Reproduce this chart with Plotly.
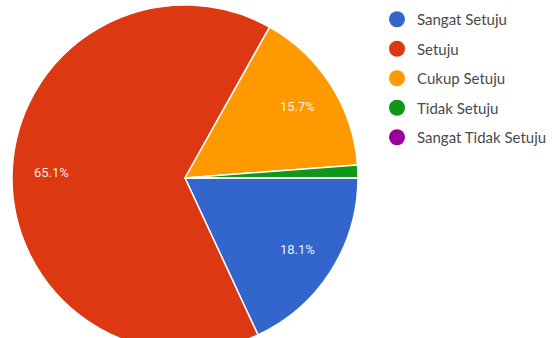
import math
import plotly.graph_objects as go

# Survey responses (counts per answer)
categories = ["Sangat Setuju", "Setuju", "Cukup Setuju", "Tidak Setuju", "Sangat Tidak Setuju"]
counts = [15, 54, 13, 1, 0]
colors = ["#3366cc", "#dc3912", "#ff9900", "#109618", "#990099"]

W, H = 553, 356
CX, CY, R = 185, 178, 173          # pie centre and radius in pixels
LABEL_R = 0.77                      # label distance as fraction of radius
MIN_LABEL_SHARE = 0.05              # slices thinner than this get no label

fig = go.Figure()

fig.add_trace(go.Pie(
    labels=categories,
    values=counts,
    sort=False,
    direction="clockwise",
    rotation=90,
    marker=dict(colors=colors, line=dict(color="white", width=1.5)),
    textinfo="none",
    showlegend=False,
    hoverinfo="label+percent",
    domain=dict(x=[(CX - R) / W, (CX + R) / W], y=[0, 1]),
))

# Percentage labels along each slice's mid-angle (clockwise from 3 o'clock)
total = sum(counts)
cum = 0
for v in counts:
    share = v / total
    mid = (cum + share / 2) * 2 * math.pi
    cum += share
    if share < MIN_LABEL_SHARE:
        continue
    px = CX + LABEL_R * R * math.cos(mid)
    py = CY + LABEL_R * R * math.sin(mid)
    fig.add_annotation(
        x=px / W, y=1 - py / H, xref="paper", yref="paper",
        xanchor="center", yanchor="middle",
        text=f"{share * 100:.1f}%", showarrow=False,
        font=dict(family="Roboto", size=13, color="rgba(255,255,255,0.92)"),
    )

# Legend entries with round swatches
for name, col in zip(categories, colors):
    fig.add_trace(go.Scatter(
        x=[None], y=[None], mode="markers", name=name, legendgroup=name,
        marker=dict(symbol="circle", size=17, color=col),
    ))

fig.update_layout(
    width=W, height=H,
    margin=dict(l=0, r=0, t=0, b=0),
    paper_bgcolor="white", plot_bgcolor="white",
    xaxis=dict(visible=False), yaxis=dict(visible=False),
    legend=dict(
        x=377 / W, y=1 - 3 / H, xanchor="left", yanchor="top",
        font=dict(family="Lato", size=15, color="#4a4a4a"),
        tracegroupgap=7, itemsizing="trace", bgcolor="rgba(0,0,0,0)",
    ),
)

fig.write_html(
    "out.html",
    post_script="document.documentElement.style.overflow='hidden';document.body.style.overflow='hidden';",
)
